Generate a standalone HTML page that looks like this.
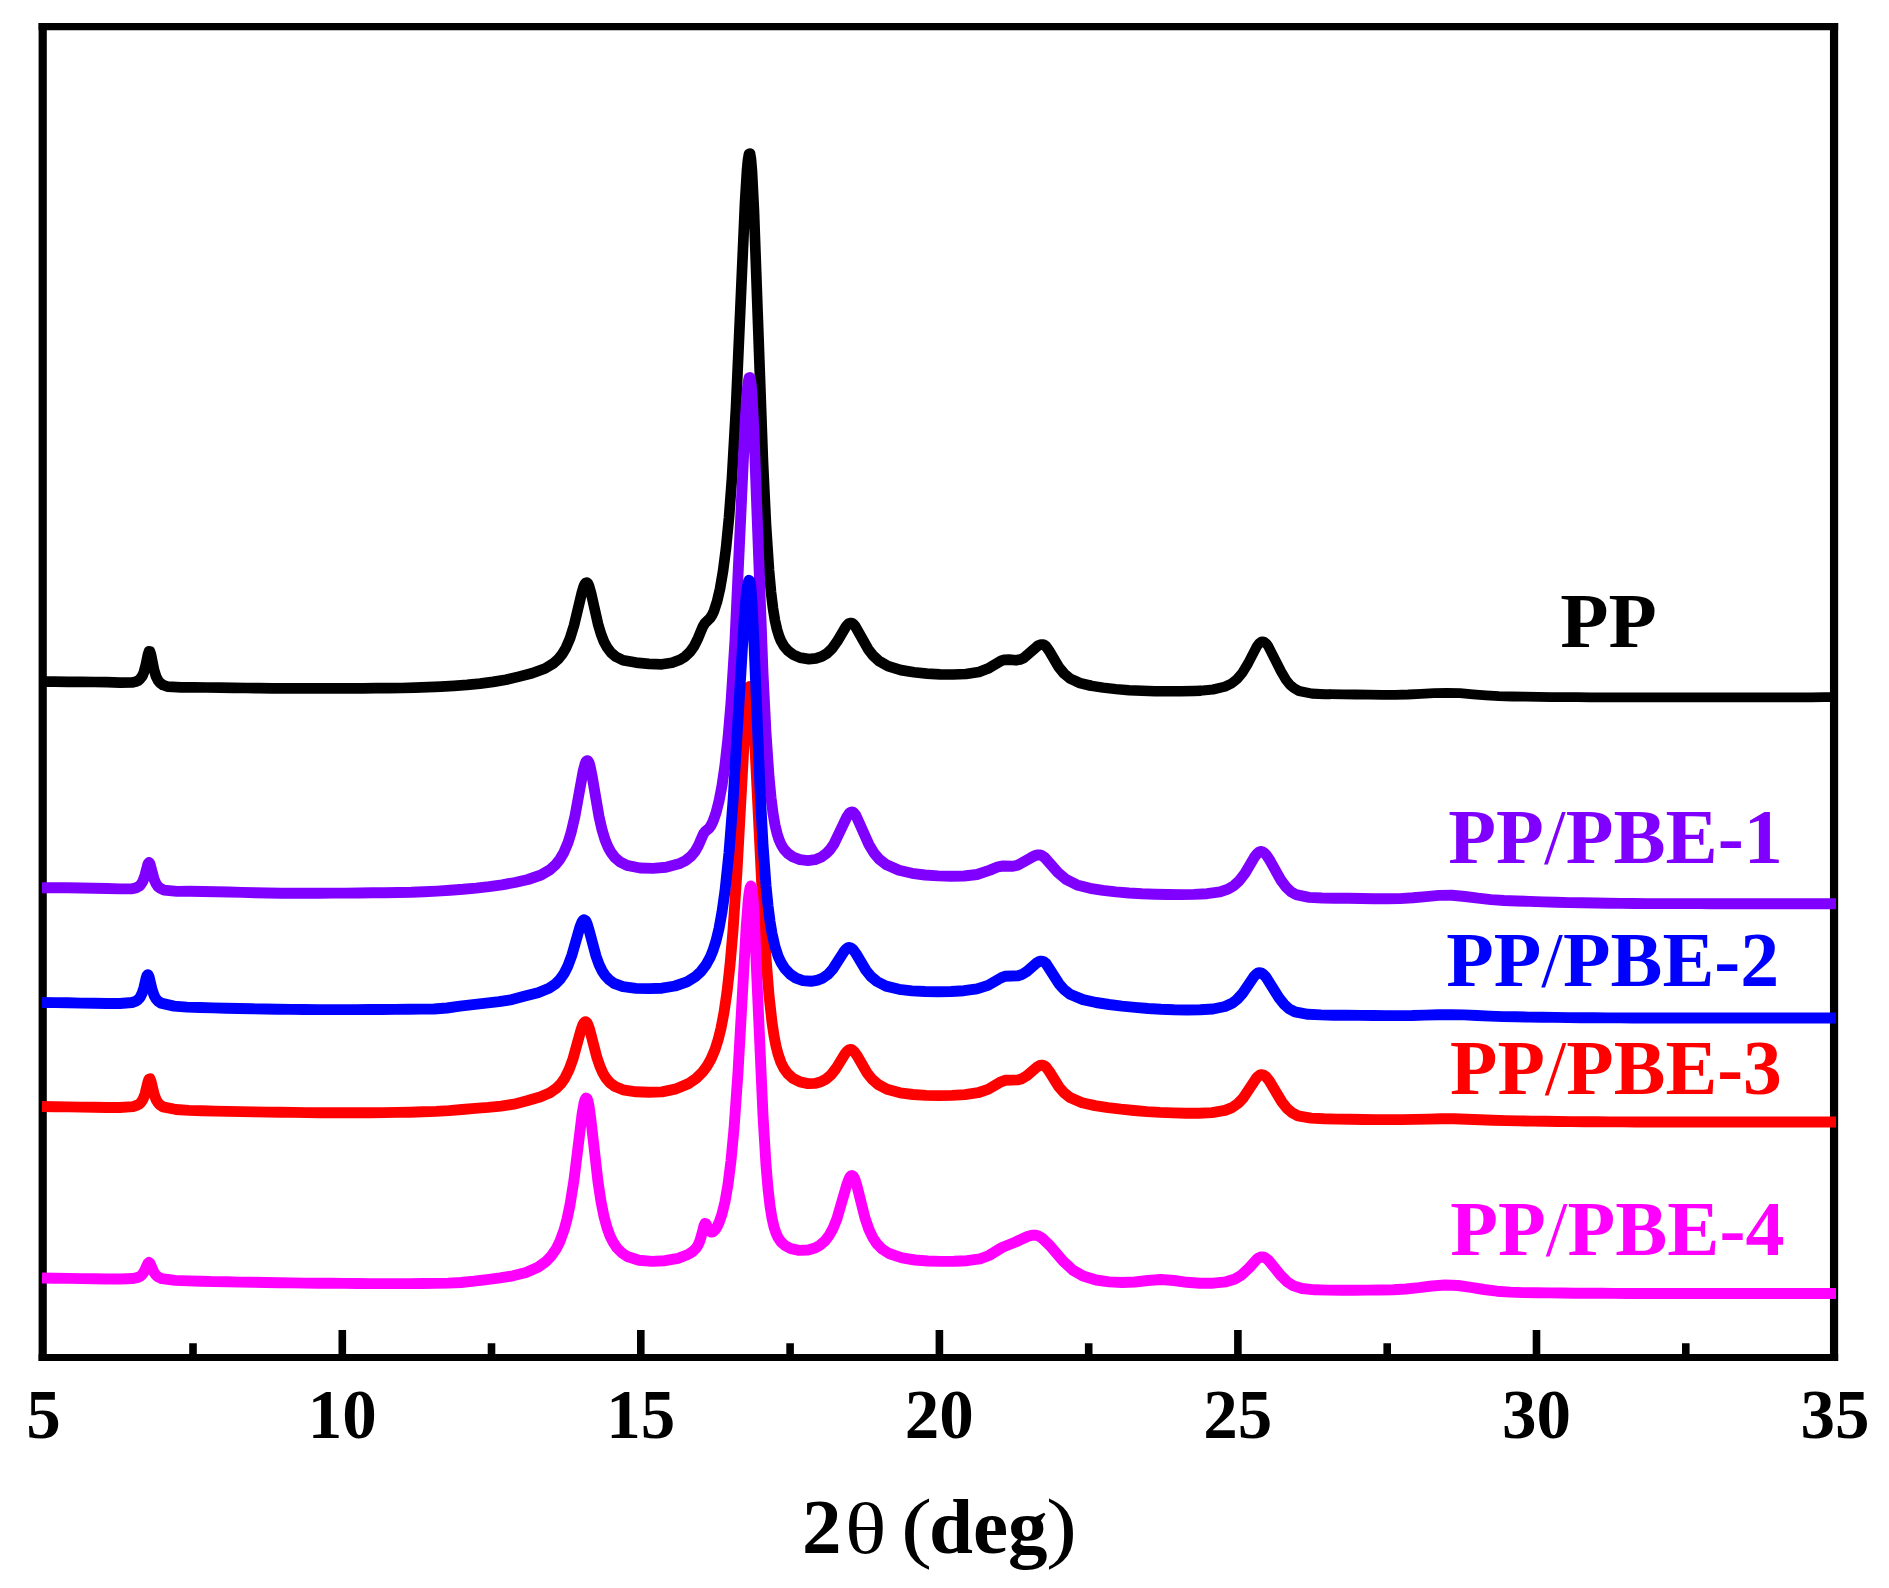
<!DOCTYPE html>
<html lang="en">
<head>
<meta charset="utf-8">
<title>XRD patterns of PP and PP/PBE blends</title>
<style>
html,body{margin:0;padding:0;background:#fff;}
body{width:1889px;height:1588px;overflow:hidden;}
svg{display:block;}
</style>
</head>
<body>
<svg width="1889" height="1588" viewBox="0 0 1889 1588">
<rect width="1889" height="1588" fill="#fff"/>
<g stroke="#000" fill="none">
<path d="M42.70 23.00 V1361.10 M1834.05 23.00 V1361.10" stroke-width="8.2"/>
<path d="M38.60 26.60 H1838.15" stroke-width="7.2"/>
<path d="M38.60 1357.60 H1838.15" stroke-width="7.0"/>
<path d="M193.0 1357.6 V1343.3 M342.3 1357.6 V1330.0 M491.5 1357.6 V1343.3 M640.8 1357.6 V1330.0 M790.1 1357.6 V1343.3 M939.4 1357.6 V1330.0 M1088.7 1357.6 V1343.3 M1237.9 1357.6 V1330.0 M1387.2 1357.6 V1343.3 M1536.5 1357.6 V1330.0 M1685.8 1357.6 V1343.3" stroke-width="7.6"/>
</g>
<g fill="none" stroke-linejoin="round" stroke-linecap="butt">
<path d="M42.0 681.7 L55.0 681.7 L68.0 681.8 L81.0 681.9 L94.0 682.0 L107.0 682.2 L120.0 682.6 L132.0 682.5 L136.0 681.6 L138.0 680.7 L140.0 679.1 L142.0 676.5 L143.0 674.5 L144.0 671.9 L146.0 664.1 L148.0 654.4 L149.0 651.4 L150.0 651.5 L151.0 654.8 L154.0 669.7 L156.0 676.4 L158.0 680.4 L160.0 682.9 L163.0 685.0 L168.0 686.7 L181.0 687.3 L194.0 687.3 L207.0 687.5 L220.0 687.6 L233.0 687.8 L246.0 688.0 L259.0 688.1 L272.0 688.3 L285.0 688.4 L298.0 688.4 L311.0 688.4 L324.0 688.4 L337.0 688.4 L350.0 688.3 L363.0 688.3 L376.0 688.2 L389.0 688.1 L402.0 688.0 L415.0 687.7 L428.0 687.2 L441.0 686.6 L454.0 685.8 L467.0 684.9 L480.0 683.6 L493.0 681.9 L506.0 679.8 L519.0 676.6 L532.0 673.3 L545.0 668.5 L553.0 663.7 L558.0 659.3 L562.0 654.4 L566.0 647.7 L570.0 638.4 L574.0 625.5 L582.0 592.0 L584.0 585.7 L585.0 583.8 L586.0 582.7 L587.0 582.6 L588.0 583.7 L589.0 585.9 L591.0 592.9 L598.0 623.9 L601.0 634.0 L604.0 641.7 L607.0 647.3 L611.0 652.6 L616.0 656.8 L623.0 660.2 L636.0 662.6 L649.0 663.8 L662.0 664.3 L672.0 662.8 L680.0 659.8 L685.0 656.7 L690.0 651.9 L694.0 646.3 L698.0 638.3 L703.0 626.3 L705.0 623.1 L710.0 618.2 L712.0 615.2 L714.0 610.9 L717.0 601.7 L720.0 588.9 L723.0 571.4 L726.0 548.2 L729.0 517.5 L732.0 477.6 L736.0 407.4 L745.0 202.7 L747.0 170.0 L748.0 159.6 L749.0 154.0 L750.0 153.5 L751.0 159.4 L752.0 171.5 L754.0 211.3 L763.0 462.1 L766.0 524.8 L769.0 570.2 L771.0 592.1 L773.0 608.5 L775.0 620.6 L777.0 629.5 L779.0 636.0 L781.0 640.9 L784.0 646.1 L788.0 650.8 L793.0 654.6 L800.0 657.6 L809.0 659.1 L816.0 658.4 L822.0 656.4 L827.0 653.4 L832.0 648.6 L837.0 641.7 L846.0 626.5 L848.0 624.2 L849.0 623.5 L850.0 623.1 L851.0 623.0 L852.0 623.2 L853.0 623.8 L855.0 625.9 L868.0 648.9 L873.0 655.5 L879.0 661.0 L888.0 666.1 L901.0 670.1 L914.0 672.3 L927.0 673.6 L940.0 674.3 L953.0 674.5 L966.0 674.0 L979.0 672.0 L988.0 668.6 L1001.0 660.8 L1004.0 659.8 L1009.0 659.6 L1016.0 660.3 L1020.0 659.6 L1024.0 657.8 L1037.0 646.4 L1039.0 645.2 L1041.0 644.5 L1043.0 644.5 L1044.0 644.9 L1046.0 646.4 L1049.0 650.6 L1059.0 667.4 L1064.0 673.5 L1070.0 678.5 L1080.0 683.1 L1091.0 685.8" stroke="#000000" stroke-width="10.7"/>
<path d="M1090.0 685.6 L1103.0 687.7 L1116.0 689.1 L1129.0 690.2 L1142.0 690.8 L1155.0 691.2 L1168.0 691.3 L1181.0 691.3 L1194.0 691.0 L1201.0 690.7" stroke="#000000" stroke-width="10.4"/>
<path d="M1200.0 690.7 L1213.0 689.5 L1225.0 686.6 L1232.0 683.2 L1237.0 679.1 L1242.0 673.3 L1248.0 663.5 L1257.0 646.2 L1259.0 643.5 L1261.0 641.9 L1262.0 641.5 L1263.0 641.5 L1264.0 641.8 L1266.0 643.3 L1268.0 645.7 L1281.0 671.4 L1286.0 679.8 L1290.0 684.8 L1294.0 688.2 L1299.0 691.0 L1312.0 693.6 L1325.0 694.2 L1331.0 694.3" stroke="#000000" stroke-width="10.1"/>
<path d="M1330.0 694.2 L1343.0 694.4 L1356.0 694.5 L1369.0 694.7 L1382.0 694.8 L1395.0 694.8 L1408.0 694.5 L1421.0 693.9 L1434.0 693.2 L1447.0 692.8 L1460.0 693.2 L1473.0 694.3 L1486.0 695.3 L1499.0 696.1 L1512.0 696.5 L1525.0 696.7 L1538.0 696.9 L1551.0 697.1 L1564.0 697.2 L1577.0 697.2 L1590.0 697.3 L1603.0 697.3 L1616.0 697.4 L1629.0 697.4 L1642.0 697.4 L1655.0 697.4 L1668.0 697.4 L1681.0 697.4 L1694.0 697.4 L1707.0 697.4 L1720.0 697.4 L1733.0 697.4 L1746.0 697.4 L1759.0 697.4 L1772.0 697.4 L1785.0 697.3 L1798.0 697.3 L1811.0 697.3 L1824.0 697.2 L1836.0 697.2" stroke="#000000" stroke-width="9.8"/>
<path d="M42.0 887.7 L55.0 887.7 L68.0 887.8 L81.0 888.0 L94.0 888.2 L107.0 888.5 L120.0 888.9 L132.0 888.8 L136.0 887.9 L139.0 886.3 L141.0 884.3 L143.0 880.9 L145.0 875.2 L148.0 863.8 L149.0 862.5 L150.0 863.9 L154.0 879.0 L156.0 883.7 L158.0 886.5 L160.0 888.2 L164.0 890.1 L177.0 891.4 L190.0 891.3 L203.0 891.5 L216.0 891.7 L229.0 892.0 L242.0 892.4 L255.0 892.7 L268.0 893.0 L281.0 893.2 L294.0 893.3 L307.0 893.3 L320.0 893.2 L333.0 893.1 L346.0 893.1 L359.0 893.0 L372.0 892.8 L385.0 892.7 L398.0 892.5 L411.0 892.3 L424.0 891.8 L437.0 891.1 L450.0 890.2 L463.0 889.3 L476.0 888.1 L489.0 886.6 L502.0 884.8 L515.0 882.5 L528.0 879.5 L541.0 875.0 L550.0 869.7 L556.0 864.2 L560.0 859.1 L564.0 852.2 L568.0 842.6 L571.0 832.9 L575.0 815.9 L583.0 771.9 L585.0 764.1 L586.0 761.7 L587.0 760.6 L588.0 760.8 L589.0 762.6 L590.0 765.8 L592.0 775.5 L599.0 816.5 L602.0 829.7 L605.0 839.6 L608.0 847.0 L611.0 852.4 L615.0 857.6 L620.0 861.9 L627.0 865.4 L640.0 868.0 L653.0 868.4 L666.0 867.3 L679.0 863.8 L686.0 860.3 L691.0 856.2 L695.0 851.4 L698.0 846.3 L703.0 834.8 L704.0 833.0 L705.0 831.7 L709.0 828.3 L711.0 825.5 L713.0 821.4 L716.0 812.9 L719.0 801.2 L722.0 785.6 L725.0 765.0 L728.0 737.9 L731.0 702.6 L735.0 640.0 L745.0 424.8 L747.0 393.4 L748.0 383.4 L749.0 377.9 L750.0 377.5 L751.0 383.1 L752.0 394.7 L754.0 432.8 L763.0 673.1 L766.0 733.1 L769.0 776.6 L771.0 797.6 L773.0 813.3 L775.0 824.9 L777.0 833.3 L779.0 839.6 L781.0 844.2 L784.0 849.2 L788.0 853.5 L793.0 857.0 L800.0 859.7 L808.0 860.6 L815.0 859.7 L821.0 857.3 L826.0 853.7 L830.0 849.6 L834.0 843.9 L847.0 816.7 L849.0 813.7 L850.0 812.7 L851.0 812.1 L852.0 812.0 L853.0 812.3 L854.0 813.0 L856.0 815.6 L869.0 844.7 L874.0 853.0 L879.0 858.9 L886.0 864.5 L899.0 870.3 L912.0 873.3 L925.0 875.0 L938.0 875.9 L951.0 876.3 L964.0 876.0 L977.0 874.5 L990.0 870.1 L998.0 866.8 L1003.0 866.0 L1013.0 866.2 L1018.0 865.1 L1031.0 857.7 L1035.0 855.6 L1038.0 854.9 L1040.0 855.0 L1042.0 855.7 L1045.0 857.8 L1058.0 872.6 L1066.0 879.4 L1077.0 884.9 L1090.0 888.3 L1103.0 890.4 L1116.0 891.9 L1129.0 893.0 L1142.0 893.8 L1155.0 894.2 L1168.0 894.5 L1181.0 894.6 L1194.0 894.4 L1207.0 893.7 L1220.0 891.9 L1228.0 889.2 L1234.0 885.6 L1239.0 881.0 L1245.0 873.2 L1255.0 856.3 L1257.0 853.8 L1259.0 852.1 L1260.0 851.6 L1261.0 851.5 L1262.0 851.6 L1264.0 852.7 L1266.0 854.6 L1270.0 860.6 L1281.0 880.3 L1286.0 887.1 L1291.0 891.7 L1296.0 894.6 L1309.0 897.4 L1322.0 898.0 L1335.0 898.2 L1348.0 898.3 L1361.0 898.5 L1374.0 898.7 L1387.0 898.8 L1400.0 898.6 L1413.0 897.8 L1426.0 896.6 L1439.0 895.4 L1452.0 895.3 L1465.0 896.5 L1478.0 898.2 L1491.0 899.6 L1504.0 900.5 L1517.0 901.0 L1530.0 901.4 L1543.0 901.9 L1556.0 902.3 L1569.0 902.6 L1582.0 902.8 L1595.0 903.0 L1608.0 903.2 L1621.0 903.4 L1634.0 903.5 L1647.0 903.6 L1660.0 903.6 L1673.0 903.6 L1686.0 903.6 L1699.0 903.6 L1712.0 903.7 L1725.0 903.7 L1738.0 903.7 L1751.0 903.7 L1764.0 903.7 L1777.0 903.7 L1790.0 903.7 L1803.0 903.7 L1816.0 903.7 L1829.0 903.7 L1836.0 903.7" stroke="#7f00ff" stroke-width="10.9"/>
<path d="M42.0 1106.5 L55.0 1106.7 L68.0 1106.9 L81.0 1107.1 L94.0 1107.3 L107.0 1107.5 L120.0 1107.5 L133.0 1106.6 L137.0 1105.3 L139.0 1104.2 L141.0 1102.4 L143.0 1099.3 L145.0 1094.1 L148.0 1081.9 L149.0 1079.0 L150.0 1078.8 L151.0 1081.3 L154.0 1093.8 L156.0 1099.4 L158.0 1102.8 L160.0 1104.9 L163.0 1106.8 L176.0 1109.5 L189.0 1110.4 L202.0 1110.8 L215.0 1111.1 L228.0 1111.4 L241.0 1111.6 L254.0 1111.9 L267.0 1112.1 L280.0 1112.3 L293.0 1112.4 L306.0 1112.6 L319.0 1112.7 L332.0 1112.7 L345.0 1112.8 L358.0 1112.8 L371.0 1112.7 L384.0 1112.6 L397.0 1112.4 L410.0 1112.2 L423.0 1111.8 L436.0 1111.4 L449.0 1110.6 L462.0 1109.5 L475.0 1108.4 L488.0 1107.4 L501.0 1106.1 L514.0 1104.2 L527.0 1100.8 L540.0 1097.0 L550.0 1092.7 L556.0 1088.6 L561.0 1083.6 L565.0 1077.8 L569.0 1069.8 L573.0 1058.8 L581.0 1029.9 L583.0 1024.5 L584.0 1022.8 L585.0 1021.8 L586.0 1021.8 L587.0 1022.8 L588.0 1024.7 L590.0 1030.8 L597.0 1057.8 L600.0 1066.6 L603.0 1073.2 L606.0 1078.2 L610.0 1082.8 L615.0 1086.5 L623.0 1089.8 L636.0 1091.8 L649.0 1092.2 L662.0 1091.9 L675.0 1089.2 L688.0 1083.9 L696.0 1078.5 L702.0 1072.7 L707.0 1066.1 L711.0 1059.0 L715.0 1049.6 L718.0 1040.2 L721.0 1028.2 L724.0 1012.5 L727.0 992.0 L730.0 965.2 L733.0 930.8 L737.0 871.1 L745.0 725.3 L747.0 699.4 L748.0 691.2 L749.0 686.8 L750.0 686.4 L751.0 690.5 L752.0 698.9 L754.0 726.9 L763.0 909.4 L766.0 958.1 L769.0 995.4 L772.0 1022.4 L774.0 1035.7 L776.0 1046.0 L778.0 1053.9 L781.0 1062.6 L784.0 1068.5 L788.0 1073.9 L793.0 1078.3 L800.0 1081.9 L808.0 1083.6 L815.0 1083.4 L821.0 1081.8 L826.0 1079.1 L831.0 1074.8 L836.0 1068.5 L845.0 1053.9 L847.0 1051.4 L849.0 1049.9 L850.0 1049.5 L851.0 1049.5 L852.0 1049.8 L854.0 1051.4 L857.0 1055.5 L867.0 1072.8 L872.0 1079.1 L878.0 1084.4 L887.0 1089.3 L900.0 1092.8 L913.0 1094.5 L926.0 1095.4 L939.0 1095.6 L952.0 1095.4 L965.0 1094.6 L978.0 1092.7 L988.0 1089.4 L1001.0 1081.8 L1005.0 1080.3 L1018.0 1079.9 L1022.0 1078.7 L1027.0 1075.7 L1037.0 1067.0 L1040.0 1065.4 L1042.0 1065.1 L1044.0 1065.5 L1046.0 1067.1 L1049.0 1071.0 L1059.0 1087.0 L1064.0 1092.8 L1070.0 1097.6 L1082.0 1102.7 L1095.0 1105.6 L1108.0 1107.6 L1121.0 1109.2 L1134.0 1110.5 L1147.0 1111.6 L1160.0 1112.4 L1173.0 1112.9 L1186.0 1113.2 L1199.0 1113.2 L1212.0 1112.6 L1225.0 1110.4 L1232.0 1107.6 L1238.0 1103.4 L1243.0 1098.2 L1256.0 1078.7 L1258.0 1076.4 L1260.0 1075.0 L1261.0 1074.7 L1262.0 1074.6 L1264.0 1075.2 L1266.0 1076.8 L1269.0 1080.4 L1282.0 1102.1 L1287.0 1108.4 L1292.0 1112.7 L1298.0 1115.8 L1311.0 1118.1 L1324.0 1118.8 L1337.0 1119.1 L1350.0 1119.3 L1363.0 1119.5 L1376.0 1119.6 L1389.0 1119.6 L1402.0 1119.6 L1415.0 1119.4 L1428.0 1119.1 L1441.0 1118.8 L1454.0 1118.8 L1467.0 1119.2 L1480.0 1119.8 L1493.0 1120.3 L1506.0 1120.6 L1519.0 1120.9 L1532.0 1121.1 L1545.0 1121.3 L1558.0 1121.5 L1571.0 1121.6 L1584.0 1121.7 L1597.0 1121.8 L1610.0 1121.9 L1623.0 1121.9 L1636.0 1122.0 L1649.0 1122.0 L1662.0 1122.0 L1675.0 1122.0 L1688.0 1122.0 L1701.0 1122.0 L1714.0 1122.0 L1727.0 1122.0 L1740.0 1122.0 L1753.0 1122.0 L1766.0 1122.0 L1779.0 1122.0 L1792.0 1122.0 L1805.0 1122.0 L1818.0 1122.0 L1831.0 1122.0 L1836.0 1122.0" stroke="#ff0000" stroke-width="10.9"/>
<path d="M42.0 1002.5 L55.0 1002.6 L68.0 1002.8 L81.0 1003.1 L94.0 1003.3 L107.0 1003.5 L120.0 1003.5 L132.0 1002.5 L136.0 1001.1 L138.0 999.7 L140.0 997.5 L142.0 993.6 L144.0 987.3 L146.0 978.7 L147.0 975.4 L148.0 974.6 L149.0 976.6 L152.0 989.2 L154.0 995.3 L156.0 998.9 L158.0 1001.1 L161.0 1003.1 L174.0 1006.1 L187.0 1007.1 L200.0 1007.5 L213.0 1007.9 L226.0 1008.2 L239.0 1008.5 L252.0 1008.8 L265.0 1009.0 L278.0 1009.2 L291.0 1009.4 L304.0 1009.5 L317.0 1009.6 L330.0 1009.6 L343.0 1009.6 L356.0 1009.6 L369.0 1009.5 L382.0 1009.5 L395.0 1009.4 L408.0 1009.3 L421.0 1009.1 L434.0 1009.0 L447.0 1008.0 L460.0 1006.2 L473.0 1004.6 L486.0 1003.2 L499.0 1001.7 L512.0 999.6 L525.0 996.1 L538.0 992.8 L549.0 988.3 L555.0 984.3 L560.0 979.4 L564.0 973.7 L568.0 965.7 L572.0 954.8 L580.0 926.8 L582.0 921.9 L583.0 920.5 L584.0 919.8 L585.0 920.1 L586.0 921.3 L587.0 923.5 L589.0 929.8 L596.0 956.0 L599.0 964.4 L602.0 970.7 L605.0 975.3 L609.0 979.7 L614.0 983.3 L623.0 986.7 L636.0 988.4 L649.0 988.6 L662.0 988.2 L675.0 986.0 L687.0 981.8 L695.0 976.9 L701.0 971.4 L706.0 964.9 L710.0 957.7 L713.0 950.4 L716.0 941.0 L719.0 928.5 L722.0 912.1 L725.0 890.7 L729.0 852.5 L733.0 801.7 L744.0 621.9 L746.0 597.6 L747.0 589.0 L748.0 583.1 L749.0 580.3 L750.0 581.2 L751.0 588.7 L752.0 602.3 L754.0 643.1 L760.0 788.8 L763.0 844.6 L766.0 885.5 L768.0 905.6 L770.0 921.3 L772.0 933.4 L775.0 946.6 L778.0 955.9 L781.0 962.5 L785.0 968.8 L790.0 974.1 L796.0 978.1 L803.0 980.6 L811.0 981.3 L818.0 980.1 L823.0 977.9 L828.0 974.3 L833.0 968.8 L844.0 951.6 L846.0 949.2 L848.0 947.8 L849.0 947.5 L850.0 947.6 L851.0 947.9 L853.0 949.5 L856.0 953.6 L866.0 970.4 L871.0 976.5 L877.0 981.5 L886.0 986.1 L899.0 989.3 L912.0 990.9 L925.0 991.5 L938.0 991.7 L951.0 991.5 L964.0 990.7 L977.0 988.9 L988.0 985.4 L1001.0 977.9 L1005.0 976.3 L1018.0 975.7 L1022.0 974.5 L1027.0 971.3 L1037.0 962.7 L1039.0 961.6 L1041.0 961.1 L1043.0 961.3 L1044.0 961.8 L1046.0 963.5 L1059.0 983.8 L1064.0 989.5 L1070.0 994.2 L1083.0 999.6 L1096.0 1002.5 L1109.0 1004.5 L1122.0 1006.1 L1135.0 1007.4 L1148.0 1008.5 L1161.0 1009.3 L1174.0 1009.8 L1187.0 1010.0 L1200.0 1009.8 L1213.0 1009.0 L1225.0 1006.5 L1232.0 1003.3 L1237.0 999.5 L1243.0 992.8 L1254.0 976.5 L1256.0 974.4 L1258.0 973.0 L1259.0 972.7 L1261.0 972.9 L1263.0 974.0 L1266.0 977.1 L1279.0 997.8 L1284.0 1004.2 L1289.0 1008.7 L1295.0 1011.9 L1308.0 1014.3 L1321.0 1014.9 L1334.0 1015.2 L1347.0 1015.3 L1360.0 1015.4 L1373.0 1015.5 L1386.0 1015.6 L1399.0 1015.6 L1412.0 1015.5 L1425.0 1015.1 L1438.0 1014.7 L1451.0 1014.6 L1464.0 1014.9 L1477.0 1015.5 L1490.0 1016.1 L1503.0 1016.6 L1516.0 1016.8 L1529.0 1017.1 L1542.0 1017.3 L1555.0 1017.4 L1568.0 1017.6 L1581.0 1017.7 L1594.0 1017.8 L1607.0 1017.9 L1620.0 1017.9 L1633.0 1018.0 L1646.0 1018.0 L1659.0 1018.0 L1672.0 1018.0 L1685.0 1018.0 L1698.0 1018.0 L1711.0 1018.0 L1724.0 1018.0 L1737.0 1018.0 L1750.0 1018.0 L1763.0 1018.0 L1776.0 1018.0 L1789.0 1018.0 L1802.0 1018.0 L1815.0 1018.0 L1828.0 1018.0 L1836.0 1018.0" stroke="#0000ff" stroke-width="10.9"/>
<path d="M42.0 1278.0 L55.0 1278.2 L68.0 1278.4 L81.0 1278.6 L94.0 1278.8 L107.0 1279.0 L120.0 1279.0 L133.0 1278.5 L138.0 1277.4 L140.0 1276.4 L142.0 1274.8 L144.0 1272.1 L148.0 1263.3 L149.0 1262.5 L150.0 1263.4 L154.0 1272.4 L156.0 1275.2 L158.0 1276.9 L162.0 1278.7 L175.0 1280.4 L188.0 1280.9 L201.0 1281.3 L214.0 1281.6 L227.0 1281.8 L240.0 1282.1 L253.0 1282.3 L266.0 1282.5 L279.0 1282.7 L292.0 1282.9 L305.0 1283.1 L318.0 1283.2 L331.0 1283.3 L344.0 1283.4 L357.0 1283.5 L370.0 1283.6 L383.0 1283.6 L396.0 1283.6 L409.0 1283.6 L422.0 1283.5 L435.0 1283.4 L448.0 1283.1 L461.0 1282.5 L474.0 1281.2 L487.0 1279.6 L500.0 1277.9 L513.0 1275.8 L526.0 1272.4 L538.0 1267.2 L546.0 1261.5 L551.0 1256.3 L556.0 1249.2 L560.0 1241.2 L564.0 1230.2 L567.0 1219.2 L570.0 1205.0 L574.0 1179.8 L582.0 1114.8 L584.0 1103.3 L585.0 1099.8 L586.0 1098.1 L587.0 1098.5 L588.0 1101.2 L589.0 1106.0 L591.0 1120.5 L598.0 1181.9 L601.0 1201.6 L604.0 1216.5 L607.0 1227.6 L610.0 1235.8 L613.0 1242.0 L617.0 1248.0 L622.0 1253.0 L628.0 1256.8 L639.0 1260.3 L652.0 1261.4 L665.0 1260.7 L678.0 1258.3 L688.0 1254.5 L693.0 1251.3 L696.0 1248.2 L698.0 1245.1 L700.0 1240.5 L702.0 1233.5 L704.0 1225.6 L705.0 1223.5 L706.0 1223.8 L709.0 1230.1 L710.0 1231.4 L711.0 1232.1 L712.0 1232.1 L713.0 1231.8 L715.0 1229.9 L717.0 1226.9 L719.0 1222.7 L722.0 1214.0 L725.0 1201.7 L728.0 1184.4 L731.0 1160.6 L734.0 1128.8 L738.0 1072.4 L746.0 930.4 L748.0 903.3 L749.0 893.9 L750.0 888.0 L751.0 886.0 L752.0 889.1 L753.0 898.3 L754.0 912.8 L763.0 1115.8 L766.0 1164.8 L768.0 1188.4 L770.0 1205.8 L772.0 1218.3 L774.0 1227.0 L776.0 1233.1 L778.0 1237.5 L781.0 1241.9 L785.0 1245.5 L791.0 1248.7 L799.0 1250.4 L808.0 1250.0 L815.0 1248.0 L820.0 1245.2 L825.0 1240.8 L829.0 1235.7 L833.0 1228.5 L837.0 1218.6 L847.0 1184.1 L849.0 1178.8 L850.0 1177.0 L851.0 1175.9 L852.0 1175.5 L853.0 1176.0 L854.0 1177.4 L855.0 1179.7 L857.0 1186.2 L865.0 1218.0 L869.0 1229.6 L873.0 1238.0 L877.0 1243.9 L882.0 1249.0 L889.0 1253.5 L902.0 1257.9 L915.0 1260.0 L928.0 1261.0 L941.0 1261.4 L954.0 1261.3 L967.0 1260.7 L980.0 1258.9 L989.0 1255.5 L1002.0 1247.5 L1015.0 1242.3 L1028.0 1236.2 L1032.0 1235.2 L1035.0 1235.1 L1038.0 1235.8 L1042.0 1238.0 L1050.0 1245.7 L1063.0 1261.0 L1073.0 1270.2 L1083.0 1276.0 L1096.0 1280.0 L1109.0 1281.9 L1122.0 1282.5 L1135.0 1282.0 L1148.0 1280.5 L1161.0 1279.5 L1174.0 1280.5 L1187.0 1282.3 L1200.0 1283.3 L1213.0 1283.2 L1226.0 1281.8 L1235.0 1279.0 L1241.0 1275.4 L1249.0 1268.0 L1257.0 1259.2 L1259.0 1257.7 L1261.0 1256.9 L1263.0 1256.9 L1265.0 1257.6 L1268.0 1259.8 L1281.0 1275.7 L1287.0 1281.7 L1293.0 1285.6 L1302.0 1288.5 L1315.0 1289.8 L1328.0 1290.1 L1341.0 1290.2 L1354.0 1290.2 L1367.0 1290.1 L1380.0 1290.0 L1393.0 1289.7 L1406.0 1289.0 L1419.0 1287.7 L1432.0 1286.0 L1445.0 1285.0 L1458.0 1285.5 L1471.0 1287.4 L1484.0 1289.5 L1497.0 1291.2 L1510.0 1292.1 L1523.0 1292.6 L1536.0 1292.8 L1549.0 1292.9 L1562.0 1293.0 L1575.0 1293.2 L1588.0 1293.3 L1601.0 1293.3 L1614.0 1293.4 L1627.0 1293.5 L1640.0 1293.5 L1653.0 1293.5 L1666.0 1293.5 L1679.0 1293.5 L1692.0 1293.5 L1705.0 1293.5 L1718.0 1293.5 L1731.0 1293.5 L1744.0 1293.5 L1757.0 1293.5 L1770.0 1293.5 L1783.0 1293.5 L1796.0 1293.5 L1809.0 1293.5 L1822.0 1293.5 L1835.0 1293.5 L1836.0 1293.5" stroke="#ff00ff" stroke-width="10.9"/>
</g>
<g font-family="'Liberation Serif', 'Times New Roman', Times, serif" font-weight="bold" text-anchor="middle">
<g font-size="69" fill="#000">
<text x="43.6" y="1438.3">5</text>
<text x="342.2" y="1438.3">10</text>
<text x="640.7" y="1438.3">15</text>
<text x="939.3" y="1438.3">20</text>
<text x="1237.8" y="1438.3">25</text>
<text x="1536.4" y="1438.3">30</text>
<text x="1834.9" y="1438.3">35</text>
</g>
<text y="1552.6" font-size="79" fill="#000" text-anchor="start"><tspan x="802.1">2</tspan><tspan x="845" font-size="72" font-weight="normal" textLength="41.4" lengthAdjust="spacingAndGlyphs">θ</tspan><tspan> </tspan><tspan x="901" font-weight="normal" textLength="31.05" lengthAdjust="spacingAndGlyphs">(</tspan><tspan x="929">deg</tspan><tspan x="1046" font-weight="normal" textLength="31.05" lengthAdjust="spacingAndGlyphs">)</tspan></text>
<g font-size="79">
<text x="1608.5" y="647" fill="#000">PP</text>
<text transform="translate(1615.6 863.2) scale(0.990 1)" fill="#7f00ff">PP<tspan font-weight="normal">/</tspan>PBE-1</text>
<text transform="translate(1612.7 986.0) scale(0.985 1)" fill="#0000ff">PP<tspan font-weight="normal">/</tspan>PBE-2</text>
<text transform="translate(1615.9 1094.2) scale(0.982 1)" fill="#ff0000">PP<tspan font-weight="normal">/</tspan>PBE-3</text>
<text transform="translate(1617.4 1254.7) scale(0.989 1)" fill="#ff00ff">PP<tspan font-weight="normal">/</tspan>PBE-4</text>
</g>
</g>
</svg>
</body>
</html>
